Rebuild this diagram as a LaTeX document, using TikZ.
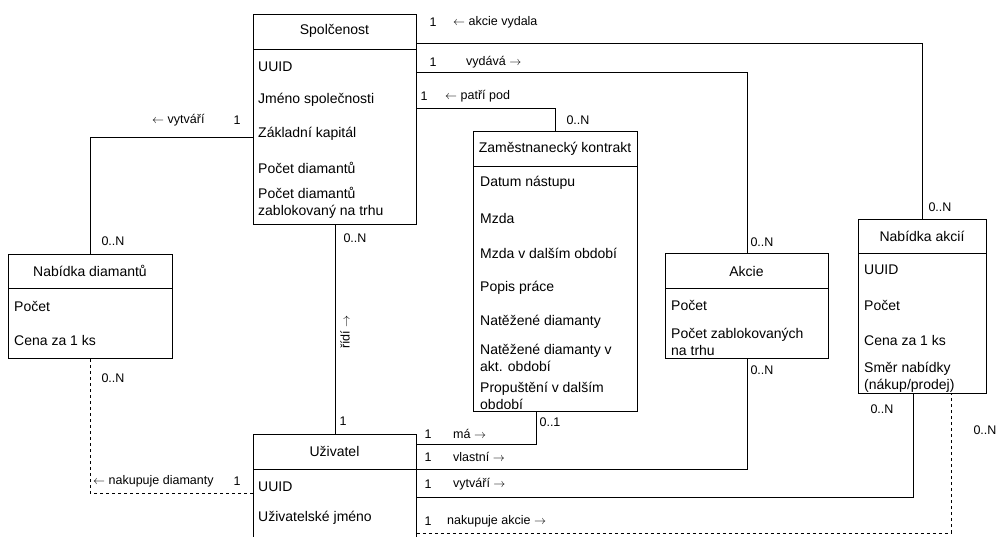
\documentclass[tikz,border=0pt]{standalone}
\usepackage{fontspec}
\setmainfont{Liberation Sans}
\newcommand{\lar}{$\leftarrow$}
\newcommand{\rar}{$\rightarrow$}
\begin{document}
\begin{tikzpicture}[x=1pt,y=-1pt,
  ent/.style={draw=black, line width=0.9pt, fill=white, rectangle, anchor=north west, inner sep=0pt},
  hdr/.style={font=\fontsize{14}{17}\selectfont, inner sep=0pt},
  row/.style={font=\fontsize{14}{17}\selectfont, anchor=west, align=left, inner sep=0pt},
  lbl/.style={font=\fontsize{12.5}{15}\selectfont, inner sep=0pt},
  lblw/.style={lbl, anchor=west},
  conn/.style={draw=black, line width=0.9pt},
  dconn/.style={conn, dash pattern=on 3pt off 3pt}
]
\useasboundingbox (0,0) rectangle (996,536);
\clip (0,0) rectangle (996,536);
\fill[white] (0,0) rectangle (996,536);

\coordinate (yA) at (0,43);
\coordinate (yB) at (0,72);
\coordinate (yC) at (0,108);
\coordinate (yD) at (0,137);

% entities
\node[ent, minimum width=163, minimum height=210] (sp) at (253,14) {};
\node[ent, minimum width=164, minimum height=104] (nd) at (8,254) {};
\node[ent, minimum width=164, minimum height=280] (zk) at (473,131) {};
\node[ent, minimum width=163, minimum height=105] (ak) at (665,253) {};
\node[ent, minimum width=128, minimum height=174] (nak) at (858,219) {};
\node[ent, minimum width=163, minimum height=140] (uz) at (253,434) {};

% header lines
\draw[conn] (sp.west |- 0,49) -- (sp.east |- 0,49);
\draw[conn] (nd.west |- 0,288) -- (nd.east |- 0,288);
\draw[conn] (zk.west |- 0,166) -- (zk.east |- 0,166);
\draw[conn] (ak.west |- 0,288) -- (ak.east |- 0,288);
\draw[conn] (nak.west |- 0,253) -- (nak.east |- 0,253);
\draw[conn] (uz.west |- 0,469) -- (uz.east |- 0,469);

% texts
\node[hdr] (sph) at (334.5,31) {Spolčenost};
\node[row] (sp1) at (258,67) {UUID};
\node[row] (sp2) at (258,100) {Jméno společnosti};
\node[row] (sp3) at (258,134) {Základní kapitál};
\node[row] (sp4) at (258,168) {Počet diamantů};
\node[row] (sp5) at (258,203) {Počet diamantů\\zablokovaný na trhu};

\node[hdr] (ndh) at (90,271) {Nabídka diamantů};
\node[row] (nd1) at (14,306) {Počet};
\node[row] (nd2) at (14,340) {Cena za 1 ks};

\node[hdr] (zkh) at (555,149) {Zaměstnanecký kontrakt};
\node[row] (zk1) at (480,183) {Datum nástupu};
\node[row] (zk2) at (480,218) {Mzda};
\node[row] (zk3) at (480,253) {Mzda v dalším období};
\node[row] (zk4) at (480,288) {Popis práce};
\node[row] (zk5) at (480,322) {Natěžené diamanty};
\node[row] (zk6) at (480,358) {Natěžené diamanty v\\akt. období};
\node[row] (zk7) at (480,396) {Propuštění v dalším\\období};

\node[hdr] (akh) at (746.5,271) {Akcie};
\node[row] (ak1) at (671,305) {Počet};
\node[row] (ak2) at (671,342) {Počet zablokovaných\\na trhu};

\node[hdr] (nakh) at (922,236) {Nabídka akcií};
\node[row] (nak1) at (864,270) {UUID};
\node[row] (nak2) at (864,305) {Počet};
\node[row] (nak3) at (864,340) {Cena za 1 ks};
\node[row] (nak4) at (864,377) {Směr nabídky\\(nákup/prodej)};

\node[hdr] (uzh) at (334.5,451) {Uživatel};
\node[row] (uz1) at (258,487) {UUID};
\node[row] (uz2) at (258,518) {Uživatelské jméno};

% connectors
\draw[conn] (sp.east |- yA) -| (nak.north);
\draw[conn] (sp.east |- yB) -| (ak.north);
\draw[conn] (sp.east |- yC) -| (zk.north);
\draw[conn] (sp.west |- yD) -| (nd.north);
\draw[conn] (sp.south) -- (uz.north);
\draw[dconn] (uz.west |- 0,493) -| (nd.south);
\draw[conn] (uz.east |- 0,444) -| (zk.south -| 536,0);
\draw[conn] (uz.east |- 0,469) -| (ak.south);
\draw[conn] (uz.east |- 0,497) -| (nak.south -| 913,0);
\draw[dconn] (uz.east |- 0,533) -| (nak.south -| 951,0);

% labels
\node[lbl] (l1) at (433,22) {1};
\node[lblw] (l2) at (453,22) {\lar\ akcie vydala};
\node[lbl] (l3) at (433,62) {1};
\node[lblw] (l4) at (466,62) {vydává \rar};
\node[lbl] (l5) at (424,96) {1};
\node[lblw] (l6) at (445,96) {\lar\ patří pod};
\node[lbl] (l7) at (578,120) {0..N};
\node[lblw] (l8) at (152,120) {\lar\ vytváří};
\node[lbl] (l9) at (237,120) {1};
\node[lbl] (l10) at (113,241) {0..N};
\node[lbl] (l11) at (355,238) {0..N};
\node[lbl] (l12) at (343,421) {1};
\node[lbl, rotate=90] (l13) at (345,332) {řídí \rar};
\node[lbl] (l14) at (762,242) {0..N};
\node[lbl] (l15) at (940,207) {0..N};
\node[lblw] (l16) at (93,481) {\lar\ nakupuje diamanty};
\node[lbl] (l17) at (237,481) {1};
\node[lbl] (l18) at (113,378) {0..N};
\node[lbl] (l19) at (428,434) {1};
\node[lblw] (l20) at (453,434) {má \rar};
\node[lbl] (l21) at (550,422) {0..1};
\node[lbl] (l22) at (428,457) {1};
\node[lblw] (l23) at (453,457) {vlastní \rar};
\node[lbl] (l24) at (428,484) {1};
\node[lblw] (l25) at (453,484) {vytváří \rar};
\node[lbl] (l26) at (428,521) {1};
\node[lblw] (l27) at (447,521) {nakupuje akcie \rar};
\node[lbl] (l28) at (762,370) {0..N};
\node[lbl] (l29) at (882,409) {0..N};
\node[lbl] (l30) at (985,430) {0..N};
\end{tikzpicture}
\end{document}
